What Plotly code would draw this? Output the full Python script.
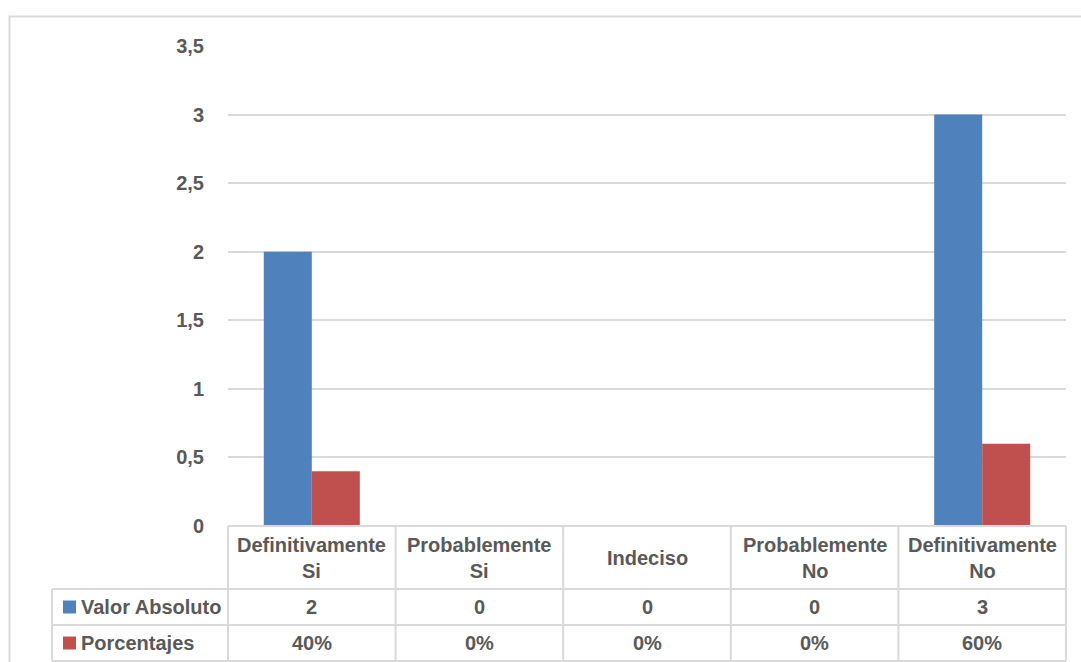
import plotly.graph_objects as go

# Survey answers and the two series shown in the chart and its data table
categorias = ["Definitivamente<br>Si", "Probablemente<br>Si", "Indeciso",
              "Probablemente<br>No", "Definitivamente<br>No"]
valor_absoluto = [2, 0, 0, 0, 3]
porcentajes = [0.40, 0.0, 0.0, 0.0, 0.60]
series_nombres = ["Valor Absoluto", "Porcentajes"]
series_colores = ["#4F81BD", "#C0504D"]

W, H = 1081, 662
PL, PR, PT, PB = 228, 1066, 46, 526   # plot area in pixels
FONT = "Liberation Sans Narrow, Arial Narrow, Liberation Sans, Arial, sans-serif"
TXT = "#595959"
GRID = "#D9D9D9"


def fx(p):
    return (p - PL) / (PR - PL)


def fy(p):
    return (PB - p) / (PB - PT)


fig = go.Figure()
for nombre, vals, color in zip(series_nombres, [valor_absoluto, porcentajes], series_colores):
    fig.add_trace(go.Bar(x=categorias, y=vals, name=nombre, marker_color=color,
                         marker_line_width=0, showlegend=False))

shapes = []
annotations = []

# Outer chart border
shapes.append(dict(type="rect", xref="paper", yref="paper",
                   x0=fx(9.5), x1=fx(1100), y0=fy(16.5), y1=fy(700),
                   line=dict(color=GRID, width=2), fillcolor="rgba(0,0,0,0)", layer="below"))

# Data table grid
n = len(categorias)
col_w = (PR - PL) / n
row_y = [PB, 589, 625, 661]
for i in range(n + 1):
    xp = PL + i * col_w
    shapes.append(dict(type="line", xref="paper", yref="paper",
                       x0=fx(xp), x1=fx(xp), y0=fy(PB), y1=fy(661),
                       line=dict(color=GRID, width=2)))
shapes.append(dict(type="line", xref="paper", yref="paper",
                   x0=fx(52), x1=fx(52), y0=fy(589), y1=fy(661),
                   line=dict(color=GRID, width=2)))
shapes.append(dict(type="line", xref="paper", yref="paper",
                   x0=fx(PL), x1=fx(PR), y0=fy(PB), y1=fy(PB),
                   line=dict(color=GRID, width=2)))
for yp in row_y[1:]:
    shapes.append(dict(type="line", xref="paper", yref="paper",
                       x0=fx(52), x1=fx(PR), y0=fy(yp), y1=fy(yp),
                       line=dict(color=GRID, width=2)))

font = dict(family=FONT, size=20, color=TXT, weight="bold")

# Header row: category names
for i, c in enumerate(categorias):
    xc = PL + (i + 0.5) * col_w
    annotations.append(dict(xref="paper", yref="paper", x=fx(xc), y=fy(558),
                            text=c, showarrow=False, font=font,
                            xanchor="center", yanchor="middle"))

# Value rows with legend keys
filas = [[str(v) for v in valor_absoluto],
         [f"{round(p * 100):.0f}%" for p in porcentajes]]
for r, (nombre, color, textos) in enumerate(zip(series_nombres, series_colores, filas)):
    yc = (row_y[r + 1] + row_y[r + 2]) / 2
    shapes.append(dict(type="rect", xref="paper", yref="paper",
                       x0=fx(63), x1=fx(76), y0=fy(yc - 6.5), y1=fy(yc + 6.5),
                       fillcolor=color, line=dict(width=0)))
    annotations.append(dict(xref="paper", yref="paper", x=fx(79), y=fy(yc),
                            text=nombre, showarrow=False, font=font,
                            xanchor="left", yanchor="middle"))
    for i, t in enumerate(textos):
        xc = PL + (i + 0.5) * col_w
        annotations.append(dict(xref="paper", yref="paper", x=fx(xc), y=fy(yc),
                                text=t, showarrow=False, font=font,
                                xanchor="center", yanchor="middle"))

fig.update_layout(
    width=W, height=H,
    margin=dict(l=PL, r=W - PR, t=PT, b=H - PB, pad=0),
    paper_bgcolor="white", plot_bgcolor="white",
    barmode="group", bargap=0.427, bargroupgap=0,
    separators=",.",
    font=font,
    xaxis=dict(showticklabels=False, showgrid=False, zeroline=False,
               showline=False, ticks=""),
    yaxis=dict(range=[0, 3.5], dtick=0.5, showgrid=True, gridcolor=GRID,
               gridwidth=2, zeroline=False, showline=False,
               ticks="outside", ticklen=19, tickcolor="rgba(0,0,0,0)",
               tickfont=font),
    shapes=shapes,
    annotations=annotations,
)

fig.write_html("out.html")
